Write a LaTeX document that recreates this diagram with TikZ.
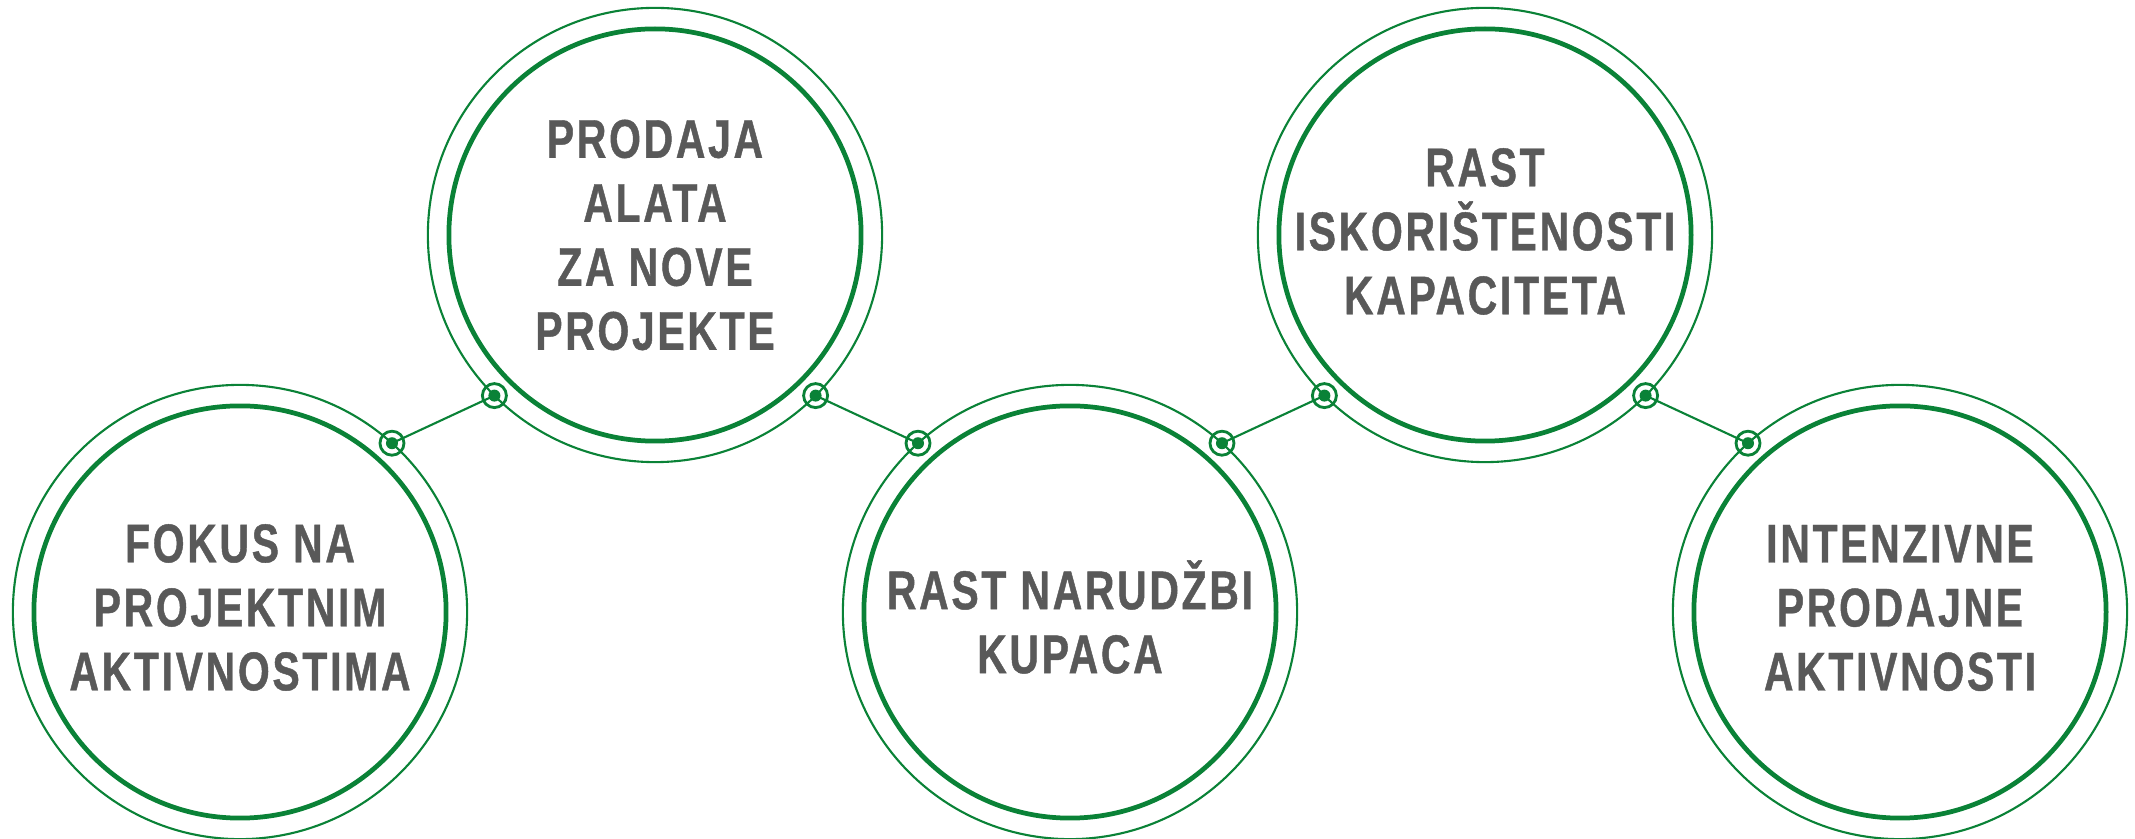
\documentclass[tikz,border=0pt]{standalone}
\usepackage{fontspec}
\newfontfamily\lab{Liberation Sans Bold}[FakeStretch=0.75,LetterSpace=5,FakeBold=0.8]
\definecolor{gr}{RGB}{10,130,55}
\definecolor{tx}{RGB}{89,89,89}
\begin{document}
\begin{tikzpicture}[x=0.01cm,y=0.01cm,
  inner/.style={circle,draw=gr,line width=1.35pt,minimum size=4.12cm,inner sep=0pt,outer sep=0pt},
  outer/.style={circle,draw=gr,line width=0.6pt,minimum size=4.54cm,inner sep=0pt,outer sep=0pt},
  ring/.style={circle,draw=gr,line width=0.8pt,minimum size=0.24cm,inner sep=0pt,outer sep=0pt},
  dot/.style={circle,fill=gr,minimum size=0.12cm,inner sep=0pt},
  link/.style={draw=gr,line width=0.6pt},
  lbl/.style={font=\lab\fontsize{15.5pt}{18.2pt}\selectfont,text=tx,align=center,inner sep=0pt}]
\useasboundingbox (0,0) rectangle (2135,839);
% circles
\foreach \n/\x/\y in {1/240/227,2/655/604,3/1070/227,4/1485/604,5/1900/227}{
  \node[outer] (o\n) at (\x,\y) {};
  \node[inner] (c\n) at (\x,\y) {};
}
% texts
\node[lbl] (t1) at ([yshift=0.045cm]c1.center) {FOKUS NA\\PROJEKTNIM\\AKTIVNOSTIMA};
\node[lbl] (t2) at (c2.center) {PRODAJA\\ALATA\\ZA NOVE\\PROJEKTE};
\node[lbl] (t3) at ([yshift=-0.05cm]c3.center) {RAST NARUDŽBI\\KUPACA};
\node[lbl] (t4) at ([yshift=0.035cm]c4.center) {RAST\\ISKORIŠTENOSTI\\KAPACITETA};
\node[lbl] (t5) at ([yshift=0.04cm]c5.center) {INTENZIVNE\\PRODAJNE\\AKTIVNOSTI};
% connector rings
\node[ring] (r1) at (o1.48) {};
\node[ring] (r2) at (o2.225) {};
\node[ring] (r3) at (o2.315) {};
\node[ring] (r4) at (o3.132) {};
\node[ring] (r5) at (o3.48) {};
\node[ring] (r6) at (o4.225) {};
\node[ring] (r7) at (o4.315) {};
\node[ring] (r8) at (o5.132) {};
% links
\draw[link] (r1.center) -- (r2.center);
\draw[link] (r3.center) -- (r4.center);
\draw[link] (r5.center) -- (r6.center);
\draw[link] (r7.center) -- (r8.center);
% dots
\foreach \i in {1,...,8}{\node[dot] (d\i) at (r\i.center) {};}
\end{tikzpicture}
\end{document}
